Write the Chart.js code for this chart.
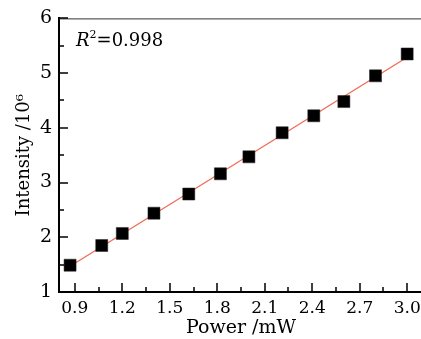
<!DOCTYPE html>
<html lang="en">
<head>
  <meta charset="UTF-8">
  <title>Intensity vs Power</title>
  <script src="https://cdn.jsdelivr.net/npm/chart.js"></script>
  <style>
    body { margin: 0; background: #fff; }
    .wrap { width: 421px; height: 339px; overflow: hidden; }
  </style>
</head>
<body>
  <div class="wrap">
    <canvas id="chart" width="440" height="339"></canvas>
  </div>
  <script>
    // measured points (power in mW, intensity in 10^6)
    const power = [0.87, 1.07, 1.20, 1.40, 1.62, 1.82, 2.00, 2.21, 2.41, 2.60, 2.80, 3.00];
    const intensity = [1.49, 1.85, 2.07, 2.44, 2.79, 3.16, 3.47, 3.91, 4.22, 4.48, 4.95, 5.35];
    // linear fit line endpoints
    const fitX = [0.87, 3.00];
    const fitY = [1.47, 5.29];
    const xTicks = [0.9, 1.2, 1.5, 1.8, 2.1, 2.4, 2.7, 3.0];
    const yTicks = [1, 2, 3, 4, 5, 6];

    const FONT = '"DejaVu Serif", serif';

    const inwardTicks = {
      id: 'inwardTicks',
      afterDraw(chart) {
        const { ctx, chartArea: a, scales: { x, y } } = chart;
        ctx.save();
        // top frame
        ctx.beginPath();
        ctx.strokeStyle = '#333';
        ctx.lineWidth = 1;
        ctx.moveTo(a.left, a.top + 0.5);
        ctx.lineTo(a.right, a.top + 0.5);
        ctx.stroke();
        ctx.strokeStyle = '#000';
        ctx.lineWidth = 1.5;
        ctx.beginPath();
        xTicks.forEach((v, i) => {
          const px = Math.round(x.getPixelForValue(v));
          ctx.moveTo(px, a.bottom);
          ctx.lineTo(px, a.bottom - 9);
          if (i < xTicks.length - 1) {
            const m = Math.round(x.getPixelForValue((v + xTicks[i + 1]) / 2));
            ctx.moveTo(m, a.bottom);
            ctx.lineTo(m, a.bottom - 5);
          }
        });
        yTicks.forEach((v, i) => {
          const py = Math.round(y.getPixelForValue(v));
          ctx.moveTo(a.left, py);
          ctx.lineTo(a.left + 9, py);
          if (i < yTicks.length - 1) {
            const m = Math.round(y.getPixelForValue((v + yTicks[i + 1]) / 2));
            ctx.moveTo(a.left, m);
            ctx.lineTo(a.left + 5, m);
          }
        });
        ctx.stroke();

        // R^2 label
        ctx.fillStyle = '#000';
        ctx.textBaseline = 'alphabetic';
        let tx = a.left + 17, ty = a.top + 28;
        ctx.font = 'italic 18px ' + FONT;
        ctx.fillText('R', tx, ty);
        tx += ctx.measureText('R').width;
        ctx.font = '11px ' + FONT;
        ctx.fillText('2', tx, ty - 8);
        tx += ctx.measureText('2').width;
        ctx.font = '18px ' + FONT;
        ctx.fillText('=0.998', tx, ty);
        ctx.restore();
      }
    };

    new Chart(document.getElementById('chart'), {
      type: 'scatter',
      data: {
        datasets: [
          {
            type: 'line',
            data: fitX.map((v, i) => ({ x: v, y: fitY[i] })),
            borderColor: '#f26a57',
            borderWidth: 1.3,
            pointRadius: 0,
            order: 2
          },
          {
            data: power.map((v, i) => ({ x: v, y: intensity[i] })),
            pointStyle: 'rect',
            pointRadius: 8.5,
            backgroundColor: '#000',
            borderColor: '#222',
            borderWidth: 0.5,
            order: 1
          }
        ]
      },
      options: {
        responsive: false,
        animation: false,
        layout: { padding: { top: 17, right: 17, left: 0, bottom: 0 } },
        plugins: { legend: { display: false }, tooltip: { enabled: false } },
        scales: {
          x: {
            type: 'linear',
            min: 0.8,
            max: 3.1,
            afterBuildTicks: s => { s.ticks = xTicks.map(v => ({ value: v })); },
            afterFit: s => { s.height = 47; },
            grid: { display: true, drawOnChartArea: false, drawTicks: false },
            border: { color: '#000', width: 2 },
            ticks: {
              color: '#000',
              padding: 6,
              font: { family: FONT, size: 17 },
              callback: v => v.toFixed(1)
            },
            title: {
              display: true,
              text: 'Power /mW',
              color: '#000',
              padding: { top: 0, bottom: 0 },
              font: { family: FONT, size: 19 }
            }
          },
          y: {
            type: 'linear',
            min: 1,
            max: 6,
            afterBuildTicks: s => { s.ticks = yTicks.map(v => ({ value: v })); },
            afterFit: s => { s.width = 59; },
            grid: { display: true, drawOnChartArea: false, drawTicks: false },
            border: { color: '#000', width: 2 },
            ticks: {
              color: '#000',
              padding: 7,
              font: { family: FONT, size: 19 }
            },
            title: {
              display: true,
              text: 'Intensity /10⁶',
              color: '#000',
              padding: { top: 14, bottom: 0 },
              font: { family: FONT, size: 18 }
            }
          }
        }
      },
      plugins: [inwardTicks]
    });
  </script>
</body>
</html>
